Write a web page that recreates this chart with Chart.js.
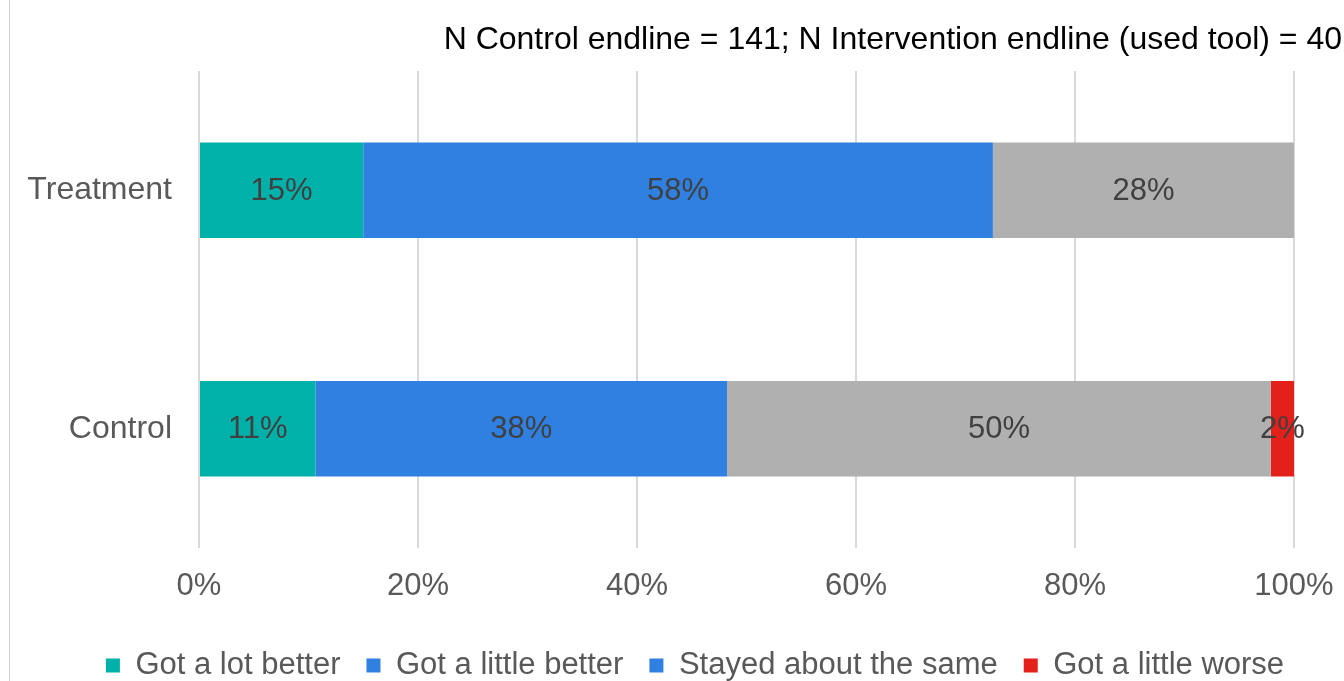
<!DOCTYPE html>
<html>
<head>
<meta charset="utf-8">
<script src="https://cdn.jsdelivr.net/npm/chart.js@4.4.1/dist/chart.umd.min.js"></script>
<style>
  html, body { margin: 0; padding: 0; background: #fff; }
  #wrap { position: relative; width: 1344px; height: 681px; }
  #edge { position: absolute; left: 9px; top: 0; width: 1px; height: 681px; background: #cfcfcf; }
</style>
</head>
<body>
<div id="wrap">
  <canvas id="my-chart"></canvas>
  <div id="edge"></div>
</div>
<script>
const groups = ['Treatment', 'Control'];
const answers = ['Got a lot better', 'Got a little better', 'Stayed about the same', 'Got a little worse'];

// shares in percent, per answer: [Treatment, Control]
const gotLotBetter = [15, 10.64];
const gotLittleBetter = [57.5, 37.59];
const stayedSame = [27.5, 49.65];
const gotLittleWorse = [0, 2.13];

const axisTicks = [0, 20, 40, 60, 80, 100];
const titleText = 'N Control endline = 141; N Intervention endline (used tool) = 40';

const barColors = ['#00b1a9', '#2f80e1', '#afb0af', '#e3201a'];
const swatchColors = ['#00b1a9', '#2f80e1', '#2f80e1', '#e3201a'];
const font = '"Liberation Sans", Arial, sans-serif';

const seriesValues = [gotLotBetter, gotLittleBetter, stayedSame, gotLittleWorse];

// write the rounded percentage in the middle of every segment
const segmentLabels = {
  id: 'segmentLabels',
  afterDatasetsDraw(chart) {
    const ctx = chart.ctx;
    ctx.save();
    ctx.font = '31px ' + font;
    ctx.fillStyle = '#404040';
    ctx.textAlign = 'center';
    ctx.textBaseline = 'middle';
    chart.data.datasets.forEach((ds, i) => {
      chart.getDatasetMeta(i).data.forEach((bar, j) => {
        const v = ds.data[j];
        if (!v) return;
        const p = bar.getCenterPoint();
        ctx.fillText(Math.round(v) + '%', p.x, p.y + 1);
      });
    });
    ctx.restore();
  }
};

// legend sits a little right of the canvas centre
const legendNudge = {
  id: 'legendNudge',
  afterLayout(chart) {
    chart.legend.left += 11;
    chart.legend.right += 11;
  }
};

const ctx = document.getElementById('my-chart').getContext('2d');

const chart = new Chart(ctx, {
  type: 'bar',
  data: {
    labels: groups,
    datasets: answers.map((name, i) => ({
      label: name,
      data: seriesValues[i],
      backgroundColor: barColors[i],
      borderWidth: 0,
      categoryPercentage: 0.4,
      barPercentage: 1
    }))
  },
  options: {
    indexAxis: 'y',
    responsive: true,
    maintainAspectRatio: false,
    animation: false,
    layout: { padding: { left: 26, right: 2, top: 0, bottom: -10 } },
    scales: {
      x: {
        stacked: true,
        min: 0,
        max: 100,
        afterBuildTicks: scale => { scale.ticks = axisTicks.map(v => ({ value: v })); },
        afterFit: scale => {
          scale.height = 76;
          scale.paddingLeft = 0;
          scale.paddingRight = 50;
        },
        grid: { color: '#d9d9d9', lineWidth: 2, drawTicks: false },
        border: { display: false },
        ticks: {
          padding: 20,
          color: '#595959',
          font: { family: font, size: 31 },
          callback: v => v + '%'
        }
      },
      y: {
        stacked: true,
        afterFit: scale => { scale.width = 173; },
        grid: { display: false, drawTicks: false },
        border: { display: false },
        ticks: {
          padding: 27,
          color: '#595959',
          font: { family: font, size: 32 }
        }
      }
    },
    plugins: {
      title: {
        display: true,
        text: titleText,
        align: 'end',
        color: '#000000',
        font: { family: font, size: 32, weight: 'normal', lineHeight: 1.2 },
        padding: { top: 21, bottom: 11.6 }
      },
      legend: {
        position: 'bottom',
        labels: {
          boxWidth: 14,
          boxHeight: 14,
          padding: 26,
          color: '#595959',
          font: { family: font, size: 31 },
          generateLabels: c => {
            const items = Chart.defaults.plugins.legend.labels.generateLabels(c);
            items.forEach((it, i) => {
              it.fillStyle = swatchColors[i];
              it.strokeStyle = swatchColors[i];
              it.lineWidth = 0;
            });
            return items;
          }
        }
      },
      tooltip: { enabled: false }
    }
  },
  plugins: [segmentLabels, legendNudge]
});
</script>
</body>
</html>
